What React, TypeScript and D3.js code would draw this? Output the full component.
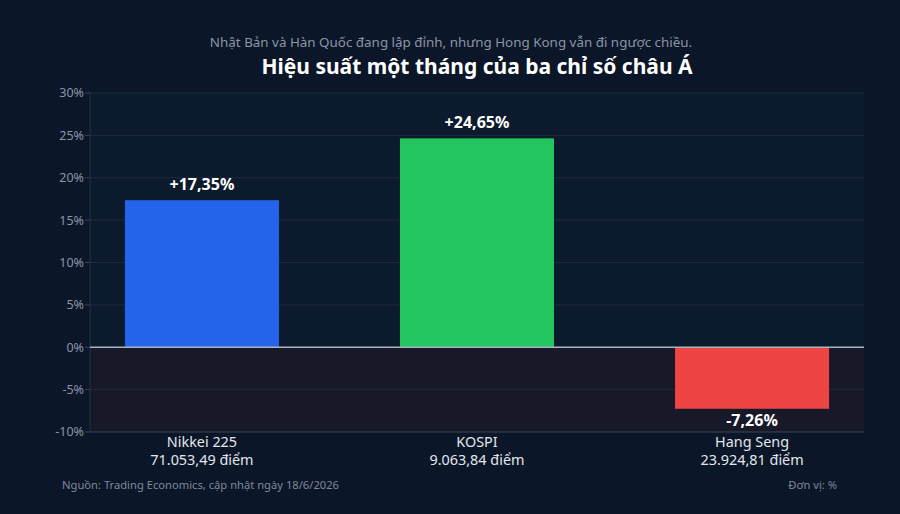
import React from "react";
import * as d3 from "d3";

const categories = ["Nikkei 225", "KOSPI", "Hang Seng"];
const points = ["71.053,49 điểm", "9.063,84 điểm", "23.924,81 điểm"];
const values = [17.35, 24.65, -7.26];
const valueLabels = ["+17,35%", "+24,65%", "-7,26%"];
const colors = ["#2563eb", "#22c55e", "#ef4444"];
const yTicks = [-10, -5, 0, 5, 10, 15, 20, 25, 30];

const W = 900;
const H = 514;
const FONT = "'Noto Sans', 'Open Sans', sans-serif";

export default function App() {
  const left = 90, right = 864, top = 93, bottom = 432;
  const y = d3.scaleLinear().domain([-10, 30]).range([bottom, top]);
  const x = d3.scaleBand<string>().domain(categories).range([left, right]).paddingInner(0.44).paddingOuter(0.127);

  return (
    <svg width={W} height={H} style={{ position: "absolute", left: 0, top: 0, background: "#0b1628" }}>
      <rect x={0} y={0} width={W} height={H} fill="#0b1628" />
      <rect x={left} y={top} width={right - left} height={y(0) - top} fill="#0c1a2e" />
      <rect x={left} y={y(0)} width={right - left} height={bottom - y(0)} fill="#171828" />
      <text x={451} y={47} textAnchor="middle" fill="#8b95a7" fontSize={13.4} fontFamily={FONT}>
        Nhật Bản và Hàn Quốc đang lập đỉnh, nhưng Hong Kong vẫn đi ngược chiều.
      </text>
      <text x={477} y={74} textAnchor="middle" fill="#ffffff" fontSize={21} fontWeight={700} fontFamily={FONT}>
        Hiệu suất một tháng của ba chỉ số châu Á
      </text>
      {yTicks.map((t) => (
        <g key={t}>
          {t !== 0 && t !== -10 && (
            <line x1={left} x2={right} y1={y(t)} y2={y(t)} stroke="#1d2a3d" strokeWidth={1} />
          )}
          <line x1={left - 5} x2={left} y1={y(t)} y2={y(t)} stroke="#3a4558" strokeWidth={1} />
          <text x={left - 6} y={y(t)} dy="0.35em" textAnchor="end" fill="#8b95a7" fontSize={12.5} fontFamily={FONT}>
            {t}%
          </text>
        </g>
      ))}
      <line x1={left} x2={left} y1={top} y2={bottom} stroke="#253246" strokeWidth={1} />
      <line x1={left} x2={right} y1={bottom} y2={bottom} stroke="#3a4558" strokeWidth={1} />
      {categories.map((c, i) => {
        const v = values[i];
        const bx = x(c)!;
        const bw = x.bandwidth();
        const y0 = y(Math.max(0, v));
        const y1 = y(Math.min(0, v));
        const cx = bx + bw / 2;
        return (
          <g key={c}>
            <rect x={bx} y={y0} width={bw} height={y1 - y0} fill={colors[i]} />
            <text
              x={cx}
              y={v >= 0 ? y0 - 10 : y1 + 17.5}
              textAnchor="middle"
              fill="#ffffff"
              fontSize={16}
              fontWeight={700}
              fontFamily={FONT}
            >
              {valueLabels[i]}
            </text>
            <text x={cx} y={bottom + 14.5} textAnchor="middle" fill="#e2e6ec" fontSize={14.4} fontFamily={FONT}>
              {c}
            </text>
            <text x={cx} y={bottom + 33} textAnchor="middle" fill="#e2e6ec" fontSize={14.4} fontFamily={FONT}>
              {points[i]}
            </text>
          </g>
        );
      })}
      <line x1={left} x2={right} y1={y(0)} y2={y(0)} stroke="#a9b3c1" strokeWidth={1.5} />
      <text x={62} y={489} fill="#7f899b" fontSize={11.2} fontFamily={FONT}>
        Nguồn: Trading Economics, cập nhật ngày 18/6/2026
      </text>
      <text x={837} y={489} textAnchor="end" fill="#7f899b" fontSize={11.2} fontFamily={FONT}>
        Đơn vị: %
      </text>
    </svg>
  );
}
